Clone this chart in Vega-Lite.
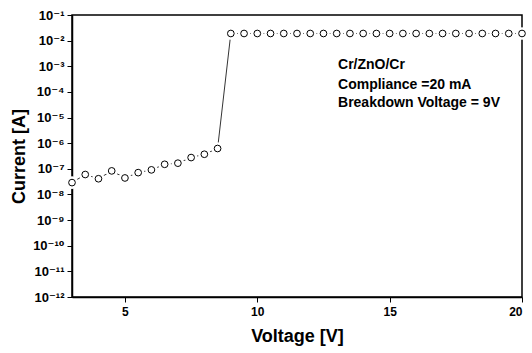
{
  "$schema": "https://vega.github.io/schema/vega-lite/v6.json",
  "width": 450,
  "height": 282,
  "autosize": {"type": "none"},
  "padding": {"left": 72, "top": 15, "right": 10, "bottom": 56},
  "background": "white",
  "config": {
    "view": {"stroke": "black", "strokeWidth": 1.5},
    "font": "Liberation Sans",
    "axis": {
      "grid": false,
      "domainColor": "black",
      "domainWidth": 1.5,
      "tickColor": "black",
      "labelColor": "black",
      "titleColor": "black",
      "labelFont": "Liberation Sans, DejaVu Sans",
      "titleFont": "Liberation Sans",
      "labelFontWeight": "bold",
      "titleFontWeight": "bold",
      "labelFontSize": 12,
      "titleFontSize": 18
    }
  },
  "datasets": {
    "iv": [
      {"V": 3, "I": 2.9e-8},
      {"V": 3.5, "I": 6e-8},
      {"V": 4, "I": 4.1e-8},
      {"V": 4.5, "I": 8.3e-8},
      {"V": 5, "I": 4.4e-8},
      {"V": 5.5, "I": 7.1e-8},
      {"V": 6, "I": 9.1e-8},
      {"V": 6.5, "I": 1.5e-7},
      {"V": 7, "I": 1.66e-7},
      {"V": 7.5, "I": 2.75e-7},
      {"V": 8, "I": 3.7e-7},
      {"V": 8.5, "I": 6.2e-7},
      {"V": 9, "I": 0.019},
      {"V": 9.5, "I": 0.019},
      {"V": 10, "I": 0.019},
      {"V": 10.5, "I": 0.019},
      {"V": 11, "I": 0.019},
      {"V": 11.5, "I": 0.019},
      {"V": 12, "I": 0.019},
      {"V": 12.5, "I": 0.019},
      {"V": 13, "I": 0.019},
      {"V": 13.5, "I": 0.019},
      {"V": 14, "I": 0.019},
      {"V": 14.5, "I": 0.019},
      {"V": 15, "I": 0.019},
      {"V": 15.5, "I": 0.019},
      {"V": 16, "I": 0.019},
      {"V": 16.5, "I": 0.019},
      {"V": 17, "I": 0.019},
      {"V": 17.5, "I": 0.019},
      {"V": 18, "I": 0.019},
      {"V": 18.5, "I": 0.019},
      {"V": 19, "I": 0.019},
      {"V": 19.5, "I": 0.019},
      {"V": 20, "I": 0.019}
    ],
    "notes": [
      {"V": 13.05, "I": 1.1e-3, "t": "Cr/ZnO/Cr"},
      {"V": 13.05, "I": 1.9e-4, "t": "Compliance =20 mA"},
      {"V": 13.05, "I": 3.6e-5, "t": "Breakdown Voltage = 9V"}
    ]
  },
  "layer": [
    {
      "data": {"name": "iv"},
      "mark": {"type": "line", "color": "black", "strokeWidth": 0.8},
      "encoding": {
        "x": {"field": "V", "type": "quantitative",
          "scale": {"domain": [3, 20], "nice": false, "zero": false},
          "axis": {"title": "Voltage [V]", "values": [5, 10, 15, 20], "tickSize": 5, "labelPadding": 4, "titlePadding": 10}},
        "y": {"field": "I", "type": "quantitative",
          "scale": {"type": "log", "domain": [1e-12, 0.1], "nice": false},
          "axis": {"title": "Current [A]",
            "values": [1e-12, 1e-11, 1e-10, 1e-9, 1e-8, 1e-7, 1e-6, 1e-5, 1e-4, 1e-3, 1e-2, 1e-1],
            "tickSize": 5, "labelPadding": 3, "titlePadding": 4, "labelFontSize": 13,
            "labelExpr": "'10⁻' + (abs(round(log(datum.value)/LN10)) >= 10 ? '¹' : '') + substring('⁰¹²³⁴⁵⁶⁷⁸⁹', abs(round(log(datum.value)/LN10)) % 10, abs(round(log(datum.value)/LN10)) % 10 + 1)"}}
      }
    },
    {
      "data": {"name": "iv"},
      "mark": {"type": "point", "shape": "circle", "size": 160, "filled": true, "fill": "white", "stroke": null, "opacity": 1},
      "encoding": {
        "x": {"field": "V", "type": "quantitative"},
        "y": {"field": "I", "type": "quantitative"}
      }
    },
    {
      "data": {"name": "iv"},
      "mark": {"type": "point", "shape": "circle", "size": 45, "filled": true, "fill": "white", "stroke": "black", "strokeWidth": 1, "opacity": 1},
      "encoding": {
        "x": {"field": "V", "type": "quantitative"},
        "y": {"field": "I", "type": "quantitative"}
      }
    },
    {
      "data": {"name": "notes"},
      "mark": {"type": "text", "align": "left", "baseline": "middle", "fontSize": 14, "fontWeight": "bold", "font": "Liberation Sans", "color": "black"},
      "encoding": {
        "x": {"field": "V", "type": "quantitative"},
        "y": {"field": "I", "type": "quantitative"},
        "text": {"field": "t"}
      }
    }
  ]
}
